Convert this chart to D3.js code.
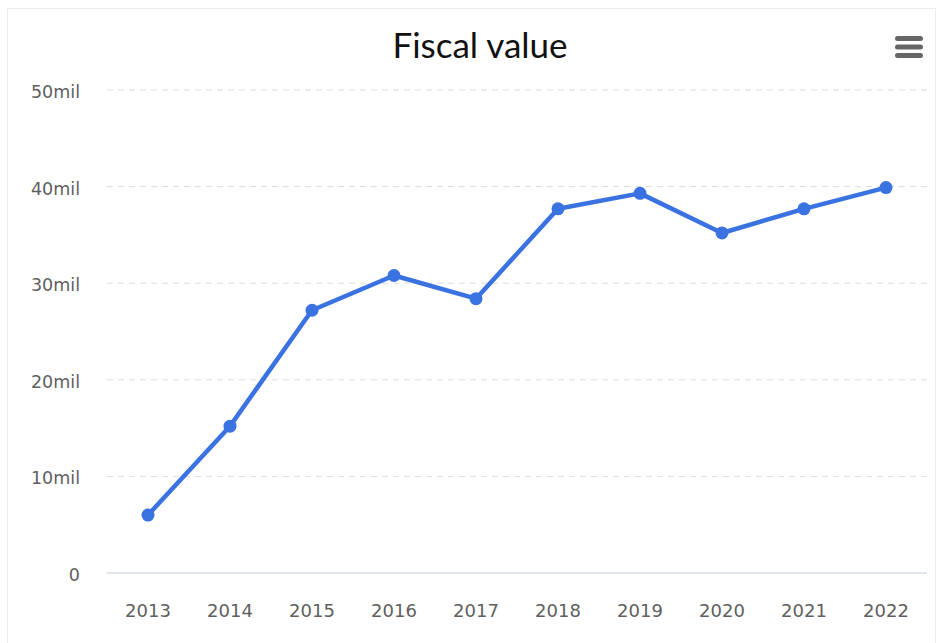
<!DOCTYPE html>
<html>
<head>
<meta charset="utf-8">
<script src="https://cdn.jsdelivr.net/npm/d3@7"></script>
<style>
  body { margin: 0; background: #fff; }
  #chart-area svg { display: block; }
</style>
</head>
<body>
<div id="chart-area"></div>
<script>
let years = ["2013", "2014", "2015", "2016", "2017", "2018", "2019", "2020", "2021", "2022"];
let values = [6.0, 15.2, 27.2, 30.8, 28.4, 37.7, 39.3, 35.2, 37.7, 39.9]; // millions
let yTicks = [0, 10, 20, 30, 40, 50];

let W = 942, H = 643;
let margin = { top: 90, right: 15, bottom: 70, left: 107 };
let width = W - margin.left - margin.right,
  height = H - margin.top - margin.bottom;

let svg = d3.select("#chart-area").append("svg")
  .attr("width", W)
  .attr("height", H);

// light frame round the chart box
svg.append("rect")
  .attr("x", 7.5).attr("y", 8.5)
  .attr("width", 928).attr("height", 650)
  .attr("fill", "none")
  .attr("stroke", "#ececec");

let bigG = svg.append("g")
  .attr("transform", "translate(" + margin.left + "," + margin.top + ")");

let xScale = d3.scaleBand()
  .domain(years)
  .range([0, width]);

let yScale = d3.scaleLinear()
  .domain([0, 50])
  .range([height, 0]);

// grid lines
bigG.selectAll(".grid")
  .data(yTicks.filter(d => d > 0))
  .enter()
  .append("line")
  .attr("class", "grid")
  .attr("x1", 0).attr("x2", width)
  .attr("y1", d => yScale(d)).attr("y2", d => yScale(d))
  .attr("stroke", "#dcdcdc")
  .attr("stroke-width", 1)
  .attr("stroke-dasharray", "6,5");

// base line
bigG.append("line")
  .attr("x1", 0).attr("x2", width)
  .attr("y1", yScale(0)).attr("y2", yScale(0))
  .attr("stroke", "#d6dbe6")
  .attr("stroke-width", 1.5);

// y labels
bigG.selectAll(".ylab")
  .data(yTicks)
  .enter()
  .append("text")
  .attr("class", "ylab")
  .attr("x", -27)
  .attr("y", d => yScale(d) + 8)
  .attr("text-anchor", "end")
  .attr("font-family", "DejaVu Sans, sans-serif")
  .attr("font-size", 17.5)
  .attr("fill", "#5f5f5f")
  .text(d => d === 0 ? "0" : d + "mil");

// x labels
bigG.selectAll(".xlab")
  .data(years)
  .enter()
  .append("text")
  .attr("class", "xlab")
  .attr("x", d => xScale(d) + xScale.bandwidth() / 2)
  .attr("y", height + 44)
  .attr("text-anchor", "middle")
  .attr("font-family", "DejaVu Sans, sans-serif")
  .attr("font-size", 18)
  .attr("fill", "#5f5f5f")
  .text(d => d);

// line + markers
let line = d3.line()
  .x((d, i) => xScale(years[i]) + xScale.bandwidth() / 2)
  .y(d => yScale(d));

bigG.append("path")
  .datum(values)
  .attr("d", line)
  .attr("fill", "none")
  .attr("stroke", "#3a72e2")
  .attr("stroke-width", 4.5)
  .attr("stroke-linejoin", "round");

bigG.selectAll(".dot")
  .data(values)
  .enter()
  .append("circle")
  .attr("class", "dot")
  .attr("cx", (d, i) => xScale(years[i]) + xScale.bandwidth() / 2)
  .attr("cy", d => yScale(d))
  .attr("r", 6.5)
  .attr("fill", "#3a72e2");

// title
svg.append("text")
  .attr("x", 480)
  .attr("y", 58)
  .attr("text-anchor", "middle")
  .attr("font-family", "Lato, sans-serif")
  .attr("font-size", 35)
  .attr("fill", "#111")
  .text("Fiscal value");

// menu icon
svg.selectAll(".menu")
  .data([0, 1, 2])
  .enter()
  .append("rect")
  .attr("class", "menu")
  .attr("x", 895)
  .attr("y", d => 36 + d * 8.5)
  .attr("width", 28)
  .attr("height", 5)
  .attr("rx", 2.5)
  .attr("fill", "#666");
</script>
</body>
</html>
